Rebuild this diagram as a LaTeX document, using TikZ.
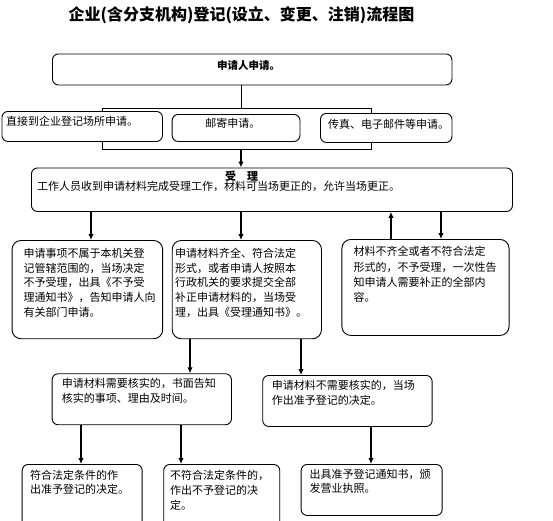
\documentclass[tikz,border=0pt]{standalone}
\usepackage{fontspec}
\setmainfont{Noto Sans CJK SC}
\usetikzlibrary{arrows.meta}
\tikzset{
  box/.style={draw, fill=white, rounded corners=6pt, line width=0.9pt, anchor=north west, inner sep=0pt},
  bigbox/.style={box, rounded corners=9pt},
  sz/.style 2 args={minimum width=#1pt, minimum height=#2pt},
  txt/.style={anchor=north west, inner sep=0pt, align=left, font=\fontsize{11}{15}\selectfont},
  head/.style={inner sep=0pt, font=\fontsize{11}{15}\selectfont\bfseries},
  arr/.style={line width=1.4pt, -{Latex[length=6pt,width=5.5pt]}}
}
\begin{document}
\begin{tikzpicture}[x=1pt,y=-1pt]
\useasboundingbox (0,0) rectangle (553,520);
\clip (0,0) rectangle (553,520);

% Title
\node[inner sep=0pt, font=\fontsize{16}{19}\selectfont\bfseries] (title) at (241.5,15.5) {企业(含分支机构)登记(设立、变更、注销)流程图};

% Application
\node[box, sz={399.5}{31}] (apply) at (52,53.5) {};
\node[head, font=\fontsize{10.5}{14}\selectfont\bfseries] (applyT) at (248.5,66) {申请人申请。};

% Ways of applying
\node[draw, line width=0.9pt, anchor=north west, inner sep=0pt, sz={269}{41}] (grp) at (102,108) {};
\node[box, sz={160.5}{30}] (direct) at (1.5,111) {};
\node[box, sz={127.8}{27}] (mail) at (171.7,114) {};
\node[box, sz={131.5}{29}] (fax) at (320,113) {};
\node[txt] (directT) at (6,115.5) {直接到企业登记场所申请。};
\node[inner sep=0pt, font=\fontsize{11}{15}\selectfont] (mailT) at (232.8,123) {邮寄申请。};
\node[txt] (faxT) at (328,118.5) {传真、电子邮件等申请。};

% Acceptance
\node[box, sz={481}{43.5}] (accept) at (31,167.5) {};
\node[head] (acceptH) at (241.5,176.7) {受\quad 理};
\node[txt] (acceptT) at (37,181.2) {工作人员收到申请材料完成受理工作，材料可当场更正的，允许当场更正。};

% Three outcomes
\node[bigbox, sz={150.6}{98.3}] (reject) at (11.6,240) {};
\node[bigbox, sz={149.2}{98.3}] (ok) at (171.8,240) {};
\node[bigbox, sz={167.2}{96}] (fix) at (341.4,239) {};
\node[txt, font=\fontsize{11}{14.8}\selectfont] (rejectT) at (23.3,247.8) {申请事项不属于本机关登\\记管辖范围的，当场决定\\不予受理，出具《不予受\\理通知书》，告知申请人向\\有关部门申请。};
\node[txt, font=\fontsize{11}{14.8}\selectfont] (okT) at (175,247.8) {申请材料齐全、符合法定\\形式，或者申请人按照本\\行政机关的要求提交全部\\补正申请材料的，当场受\\理，出具《受理通知书》。};
\node[txt, font=\fontsize{11}{15.3}\selectfont] (fixT) at (353.3,246.2) {材料不齐全或者不符合法定\\形式的，不予受理，一次性告\\知申请人需要补正的全部内\\容。};

% Verification
\node[box, sz={179.3}{51}] (verify) at (51.7,373.3) {};
\node[box, sz={169.4}{51}] (noverify) at (262.3,375) {};
\node[txt] (verifyT) at (61.7,377.8) {申请材料需要核实的，书面告知\\核实的事项、理由及时间。};
\node[txt] (noverifyT) at (271.7,379.5) {申请材料不需要核实的，当场\\作出准予登记的决定。};

% Decisions
\node[box, sz={120}{70}] (grant) at (21.7,464) {};
\node[box, sz={116}{70}] (deny) at (163.3,464) {};
\node[box, sz={141}{51}] (license) at (300.7,464) {};
\node[txt, font=\fontsize{11}{14}\selectfont] (grantT) at (30,469.5) {符合法定条件的作\\出准予登记的决定。};
\node[txt] (denyT) at (170,469.5) {不符合法定条件的，\\作出不予登记的决\\定。};
\node[txt, font=\fontsize{11}{14}\selectfont] (licenseT) at (309.3,469.5) {出具准予登记通知书，颁\\发营业执照。};

% Connector columns
\foreach \x in {81,91,181,190,241,301,371,391,441}
\coordinate (c\x) at (\x,0);

% Connectors
\draw[line width=0.8pt] (apply.south -| c241) -- (grp.north -| c241);
\draw[arr] (grp.south -| c241) -- (accept.north -| c241);
\foreach \a/\b/\x in {accept/reject/91, accept/ok/241, accept/fix/441, ok/verify/190, ok/noverify/301, verify/grant/81, verify/deny/181, noverify/license/371}
\draw[arr] (\a.south -| c\x) -- (\b.north -| c\x);
\draw[arr] (fix.north -| c391) -- (accept.south -| c391);

\end{tikzpicture}
\end{document}
